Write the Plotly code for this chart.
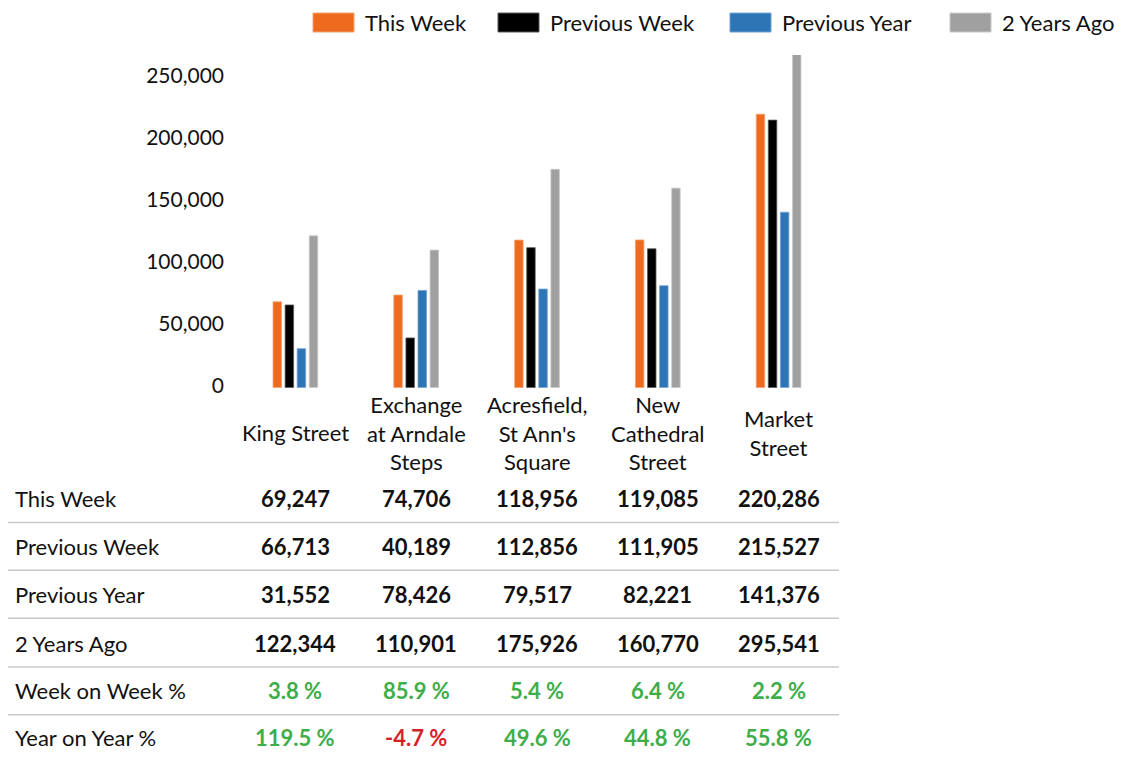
import plotly.graph_objects as go

# ---------------- data ----------------
categories = ["King Street", "Exchange at Arndale Steps", "Acresfield, St Ann's Square",
              "New Cathedral Street", "Market Street"]
category_labels = ["King Street", "Exchange<br>at Arndale<br>Steps", "Acresfield,<br>St Ann's<br>Square",
                   "New<br>Cathedral<br>Street", "Market<br>Street"]
series_names = ["This Week", "Previous Week", "Previous Year", "2 Years Ago"]
this_week = [69247, 74706, 118956, 119085, 220286]
previous_week = [66713, 40189, 112856, 111905, 215527]
previous_year = [31552, 78426, 79517, 82221, 141376]
two_years_ago = [122344, 110901, 175926, 160770, 295541]
week_on_week = [3.8, 85.9, 5.4, 6.4, 2.2]
year_on_year = [119.5, -4.7, 49.6, 44.8, 55.8]
y_ticks = [0, 50000, 100000, 150000, 200000, 250000]
pct_rows = ["Week on Week %", "Year on Year %"]

# ---------------- styles ----------------
OFF = 8                      # default page body margin
S = 1.009                    # small vertical calibration
W, H = 1127 - 2 * OFF, 762 - 2 * OFF
colors = ["#EE6A1F", "#000000", "#2E75B6", "#A0A0A0"]
edge = ["#F4A070", "#555555", "#6F9FD0", "#C8C8C8"]
FONT = "Lato"
GREEN = "#3DAE4A"
RED = "#D7202A"
TXT = "#111111"


def px(x):
    return (x - OFF) / W


def py(y):
    return 1 - (y * S - OFF) / H


series = [this_week, previous_week, previous_year, two_years_ago]
xs = list(range(len(categories)))

fig = go.Figure()
for name, vals, c, e in zip(series_names, series, colors, edge):
    fig.add_trace(go.Bar(x=xs, y=vals, name=name, marker=dict(color=c, line=dict(color=e, width=0.8)),
                         showlegend=False, hovertext=categories))

annotations = []
shapes = []

# category labels
for i, lab in enumerate(category_labels):
    annotations.append(dict(x=i, xref="x", y=py(434), yref="paper", text=lab, showarrow=False,
                            xanchor="center", yanchor="middle", font=dict(family=FONT, size=22, color=TXT)))

# table
row_names = series_names + pct_rows
row_vals = series + [week_on_week, year_on_year]
row_y = [500, 548, 596, 645, 693, 740]
for r, (name, vals, yy) in enumerate(zip(row_names, row_vals, row_y)):
    annotations.append(dict(x=px(13), xref="paper", y=py(yy), yref="paper", text=name, showarrow=False,
                            xanchor="left", yanchor="middle", font=dict(family=FONT, size=22, color=TXT)))
    for i, v in enumerate(vals):
        if r < 4:
            txt = f"<b>{v:,}</b>"
            col = TXT
        else:
            txt = f"<b>{v:.1f} %</b>"
            col = GREEN if v >= 0 else RED
        annotations.append(dict(x=i, xref="x", y=py(yy), yref="paper", text=txt, showarrow=False,
                                xanchor="center", yanchor="middle", font=dict(family=FONT, size=22, color=col)))

for ly in [524, 572, 620, 669, 717]:
    shapes.append(dict(type="line", xref="paper", yref="paper", x0=px(8), x1=px(839), y0=py(ly), y1=py(ly),
                       line=dict(color="#C8C8C8", width=1.5)))

# legend (manual)
leg_x = [313, 498, 730, 950]
for name, c, e, lx in zip(series_names, colors, edge, leg_x):
    shapes.append(dict(type="rect", xref="paper", yref="paper", x0=px(lx), x1=px(lx + 41), y0=py(32), y1=py(13),
                       fillcolor=c, line=dict(color=e, width=1)))
    annotations.append(dict(x=px(lx + 50), xref="paper", y=py(22), yref="paper", text=name, showarrow=False,
                            xanchor="left", yanchor="middle", font=dict(family=FONT, size=22, color=TXT)))

fig.update_layout(
    width=W, height=H,
    margin=dict(l=0, r=0, t=0, b=0),
    paper_bgcolor="white", plot_bgcolor="white",
    barmode="group", bargap=0.6, bargroupgap=0.3,
    font=dict(family=FONT, size=21, color=TXT),
    annotations=annotations, shapes=shapes,
    xaxis=dict(domain=[px(235), px(839)], range=[-0.5, 4.5], showticklabels=False, showgrid=False,
               zeroline=False, showline=False, ticks=""),
    yaxis=dict(domain=[py(389), py(55)], range=[0, 268000], tickvals=y_ticks, tickformat=",",
               showgrid=False, zeroline=False, showline=False, ticks="",
               ticklabelstandoff=10, ticklabelshift=-2,
               tickfont=dict(family=FONT, size=21, color=TXT)),
    showlegend=False,
)

fig.write_html("out.html")
